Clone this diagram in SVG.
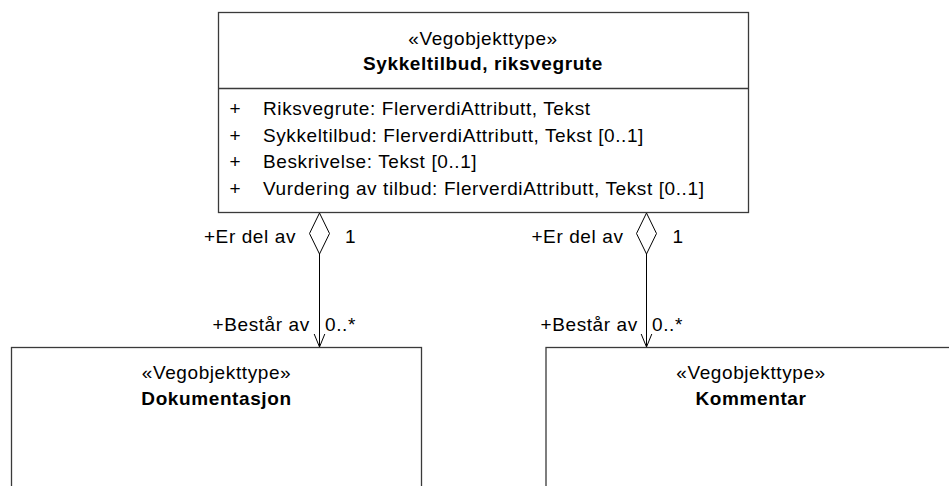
<svg xmlns="http://www.w3.org/2000/svg" width="949" height="486" viewBox="0 0 949 486">
<defs>
<style>
text{font-family:"Liberation Sans",Arial,sans-serif;font-size:19px;letter-spacing:0.6px;fill:#000}
.b{font-weight:bold}
.m{text-anchor:middle}
.e{text-anchor:end}
.box{fill:#fff;stroke:#3a3a3a;stroke-width:1.3}
.ln{fill:none;stroke:#000;stroke-width:1}
.dia{fill:#fff;stroke:#000;stroke-width:1}
</style>
</defs>
<rect width="949" height="486" fill="#fff"/>
<g id="connectors">
<g id="c1">
<line class="ln" x1="319.5" y1="254" x2="319.5" y2="347"/>
<polygon class="dia" points="319.5,213 329.5,233.5 319.5,254 309.5,233.5"/>
<polyline class="ln" points="314.2,334 319.5,347 324.8,334"/>
<text class="e" x="296" y="243">+Er del av</text>
<text x="345" y="243">1</text>
<text x="212.5" y="331">+Består av</text>
<text x="325" y="331">0..*</text>
</g>
<g id="c2">
<line class="ln" x1="646.5" y1="254" x2="646.5" y2="347"/>
<polygon class="dia" points="646.5,213 656.5,233.5 646.5,254 636.5,233.5"/>
<polyline class="ln" points="641.2,334 646.5,347 651.8,334"/>
<text class="e" x="623.5" y="243">+Er del av</text>
<text x="672.5" y="243">1</text>
<text x="540.5" y="331">+Består av</text>
<text x="652" y="331">0..*</text>
</g>
</g>
<g id="sykkeltilbud">
<rect class="box" x="218.5" y="12.5" width="530" height="200"/>
<line class="box" x1="218.5" y1="88.5" x2="748.5" y2="88.5"/>
<text class="m" x="483" y="44.5">«Vegobjekttype»</text>
<text class="m b" x="483" y="69.5">Sykkeltilbud, riksvegrute</text>
<text x="229.5" y="115">+</text>
<text x="263" y="115">Riksvegrute: FlerverdiAttributt, Tekst</text>
<text x="229.5" y="141.7">+</text>
<text x="263" y="141.7">Sykkeltilbud: FlerverdiAttributt, Tekst [0..1]</text>
<text x="229.5" y="168.4">+</text>
<text x="263" y="168.4">Beskrivelse: Tekst [0..1]</text>
<text x="229.5" y="195">+</text>
<text x="263" y="195">Vurdering av tilbud: FlerverdiAttributt, Tekst [0..1]</text>
</g>
<g id="dokumentasjon">
<rect class="box" x="11.5" y="347.5" width="410" height="160"/>
<text class="m" x="216.5" y="378.5">«Vegobjekttype»</text>
<text class="m b" x="216.5" y="405">Dokumentasjon</text>
</g>
<g id="kommentar">
<rect class="box" x="546" y="347.5" width="410" height="160"/>
<text class="m" x="751" y="378.5">«Vegobjekttype»</text>
<text class="m b" x="751" y="405">Kommentar</text>
</g>
</svg>
